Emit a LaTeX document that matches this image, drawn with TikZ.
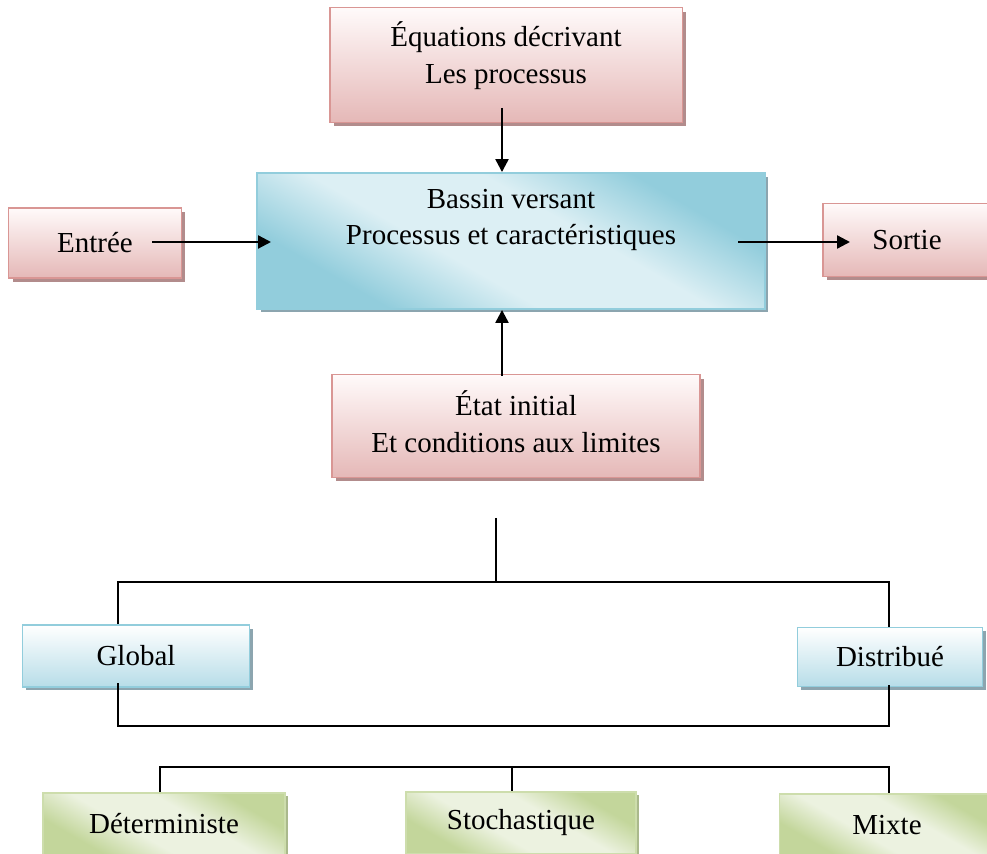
\documentclass[tikz,border=0pt]{standalone}
\usepackage{fontspec}
\setmainfont{Liberation Serif}
\usetikzlibrary{arrows.meta,shadows}
\definecolor{pinkline}{RGB}{217,150,148}
\definecolor{pinktop}{RGB}{255,250,250}
\definecolor{pinkbot}{RGB}{229,184,183}
\definecolor{pinkshade}{RGB}{178,140,140}
\definecolor{blueline}{RGB}{146,205,220}
\definecolor{bluelight}{RGB}{220,239,244}
\definecolor{bluedark}{RGB}{146,205,220}
\definecolor{bluebot}{RGB}{183,221,232}
\definecolor{blueshade}{RGB}{140,165,175}
\definecolor{greenline}{RGB}{205,221,172}
\definecolor{greenlight}{RGB}{236,242,224}
\definecolor{greendark}{RGB}{195,214,155}
\definecolor{greenshade}{RGB}{170,185,140}
\pgfdeclareverticalshading{bassinshade}{100bp}{color(0bp)=(bluedark); color(28bp)=(bluedark);
  color(42bp)=(bluelight); color(58bp)=(bluelight); color(72bp)=(bluedark); color(100bp)=(bluedark)}
\pgfdeclareverticalshading{greenshading}{100bp}{color(0bp)=(greendark); color(28bp)=(greendark);
  color(42bp)=(greenlight); color(58bp)=(greenlight); color(72bp)=(greendark); color(100bp)=(greendark)}

\begin{document}
\begin{tikzpicture}[x=0.02cm,y=-0.02cm,
  font=\fontsize{16.5}{21}\selectfont,
  arr/.style={line width=1.3pt,-{Triangle[length=0.26cm,width=0.26cm]}},
  tree/.style={line width=0.85pt},
  pinkbox/.style={draw=pinkline,line width=1.1pt,top color=pinktop,bottom color=pinkbot,
    drop shadow={shadow xshift=0.08cm,shadow yshift=-0.08cm,fill=pinkshade,opacity=1}},
  mainbox/.style={draw=blueline,line width=1.1pt,shade,shading=bassinshade,shading angle=-30,
    drop shadow={shadow xshift=0.07cm,shadow yshift=-0.07cm,fill=blueshade,opacity=1}},
  bluebox/.style={draw=blueline,line width=1.1pt,top color=white,bottom color=bluebot,
    drop shadow={shadow xshift=0.07cm,shadow yshift=-0.07cm,fill=blueshade,opacity=1}},
  greenbox/.style={draw=greenline,line width=1.1pt,shade,shading=greenshading,shading angle=-30,
    drop shadow={shadow xshift=0.06cm,shadow yshift=-0.06cm,fill=greenshade,opacity=1}},
  lbl/.style={align=center,inner sep=0pt}]
\useasboundingbox (0,0) rectangle (987,854);
% upper part
\node[pinkbox,minimum width=7.06cm,minimum height=2.3cm] (eqs) at (506,65) {};
\node[lbl] (eqstxt) at (506,56) {Équations décrivant\\Les processus};
\node[mainbox,minimum width=10.16cm,minimum height=2.72cm] (bassin) at (511,241) {};
\node[lbl] (bassintxt) at (511,220) {Bassin versant\\Processus et caractéristiques};
\node[pinkbox,minimum width=3.46cm,minimum height=1.4cm] (entree) at (95,243) {Entrée};
\node[pinkbox,minimum width=3.36cm,minimum height=1.46cm] (sortie) at (907,240) {Sortie};
\node[pinkbox,minimum width=7.36cm,minimum height=2.06cm] (etat) at (516,426) {};
\node[lbl] (etattxt) at (516,422) {État initial\\Et conditions aux limites};
\coordinate (eqsout) at (502,108);
\coordinate (entout) at (152,242);
\coordinate (entin) at (271,242);
\coordinate (sorout) at (738,242);
\coordinate (sorin) at (850,242);
\coordinate (etatout) at (502,376);
\draw[arr] (eqsout) -- (eqsout |- bassin.north);
\draw[arr] (entout) -- (entin);
\draw[arr] (sorout) -- (sorin);
\draw[arr] (etatout) -- (etatout |- bassin.south);
% lower part
\node[bluebox,minimum width=4.54cm,minimum height=1.24cm] (global) at (136,656) {Global};
\node[bluebox,minimum width=3.7cm,minimum height=1.18cm] (distrib) at (890,657) {Distribué};
\coordinate (top) at (496,518);
\coordinate (fork) at (496,582);
\coordinate (gl) at (118,582);
\coordinate (dr) at (889,582);
\coordinate (glb) at (118,726);
\coordinate (drb) at (889,726);
\draw[tree] (top) -- (fork);
\draw[tree] (gl |- global.north) -- (gl) -- (dr) -- (dr |- distrib.north);
\draw[tree] (118,683) -- (glb) -- (drb) -- (889,685);
\node[greenbox,minimum width=4.84cm,minimum height=1.24cm] (determ) at (164,824) {Déterministe};
\node[greenbox,minimum width=4.6cm,minimum height=1.24cm] (stoch) at (521,823) {Stochastique};
\node[greenbox,minimum width=4.3cm,minimum height=1.24cm] (mixte) at (887,825) {Mixte};
\coordinate (gd) at (160,767);
\coordinate (gs) at (512,767);
\coordinate (gm) at (889,767);
\draw[tree] (gd |- determ.north) -- (gd) -- (gm) -- (gm |- mixte.north);
\draw[tree] (gs) -- (gs |- stoch.north);
\end{tikzpicture}
\end{document}
